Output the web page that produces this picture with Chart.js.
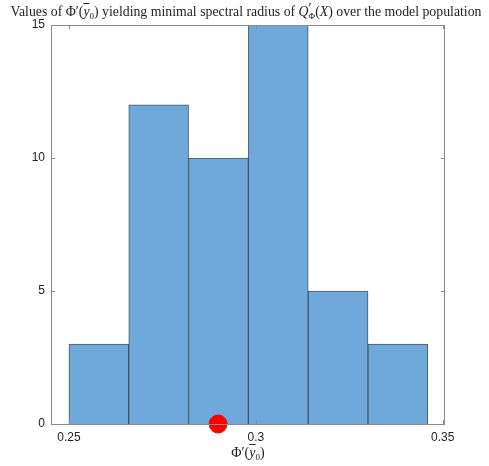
<!DOCTYPE html>
<html>
<head>
<meta charset="utf-8">
<script src="https://cdn.jsdelivr.net/npm/chart.js@4"></script>
<style>
  html, body { margin: 0; padding: 0; background: #fff; }
  #wrap { position: relative; width: 489px; height: 466px; }
  #title {
    position: absolute; left: 0; top: 4px; width: 492px; text-align: center;
    font-family: "Liberation Serif", "Times New Roman", serif; font-size: 13.8px; color: #222;
    white-space: nowrap;
  }
  #xlabel {
    position: absolute; left: 148px; top: 445px; width: 200px; text-align: center;
    font-family: "Liberation Serif", serif; font-size: 14px; color: #222;
  }
  .ov { text-decoration: overline; }
  i { font-style: italic; }
  sub { font-size: 9px; vertical-align: -3px; line-height: 0; }
  .pr { display: inline-block; width: 0; position: relative; top: -3px; }
</style>
</head>
<body>
<div id="wrap">
  <canvas id="chart" width="489" height="466"></canvas>
  <div id="title">Values of Φ′(<i class="ov">y</i><sub>0</sub>) yielding minimal spectral radius of <i>Q</i><span class="pr">′</span><sub>Φ</sub>(<i>X</i>) over the model population</div>
  <div id="xlabel">Φ′(<i class="ov">y</i><sub>0</sub>)</div>
</div>
<script>
// 히스토그램 데이터
const binEdges = [0.25, 0.266, 0.282, 0.298, 0.314, 0.330, 0.346];
const binCounts = [3, 12, 10, 15, 5, 3];
const markerX = [0.2899];
const markerY = [0];
const xTicks = [0.25, 0.3, 0.35];
const yTicks = [0, 5, 10, 15];

// 막대 데이터 (구간 중앙)
const barData = binCounts.map((c, i) => ({ x: (binEdges[i] + binEdges[i + 1]) / 2, y: c }));

// 상자 테두리와 안쪽 눈금
const boxPlugin = {
    id: 'box',
    afterDatasetsDraw(c) {
        const a = c.chartArea;
        const ctx = c.ctx;
        const xs = c.scales.x, ys = c.scales.y;
        ctx.save();
        ctx.strokeStyle = '#8a8a8a';
        ctx.lineWidth = 1;
        ctx.strokeRect(a.left + 0.5, a.top + 0.5, a.right - a.left - 1, a.bottom - a.top);
        ctx.beginPath();
        xTicks.forEach(v => {
            const px = Math.round(xs.getPixelForValue(v)) + 0.5;
            ctx.moveTo(px, a.bottom); ctx.lineTo(px, a.bottom - 4);
            ctx.moveTo(px, a.top); ctx.lineTo(px, a.top + 4);
        });
        yTicks.forEach(v => {
            const py = Math.round(ys.getPixelForValue(v)) + 0.5;
            ctx.moveTo(a.left, py); ctx.lineTo(a.left + 4, py);
            ctx.moveTo(a.right, py); ctx.lineTo(a.right - 4, py);
        });
        ctx.stroke();
        ctx.restore();
    }
};

function init() {
    const ctx = document.getElementById('chart').getContext('2d');
    new Chart(ctx, {
        data: {
            datasets: [
                {
                    type: 'scatter',
                    data: markerX.map((x, i) => ({ x: x, y: markerY[i] })),
                    backgroundColor: '#ff0000',
                    borderColor: '#ff0000',
                    pointRadius: 9,
                    clip: false,
                    order: 0
                },
                {
                    type: 'bar',
                    data: barData,
                    backgroundColor: 'rgb(111,168,218)',
                    borderColor: 'rgba(45,60,75,0.85)',
                    borderWidth: 1,
                    barPercentage: 1,
                    categoryPercentage: 1,
                    order: 1
                }
            ]
        },
        options: {
            responsive: false,
            animation: false,
            layout: { padding: { top: 25, right: 44, left: 0, bottom: 0 } },
            plugins: { legend: { display: false }, tooltip: { enabled: false } },
            scales: {
                x: {
                    type: 'linear',
                    offset: false,
                    min: 0.2452,
                    max: 0.3506,
                    afterBuildTicks: s => { s.ticks = xTicks.map(v => ({ value: v })); },
                    afterFit: s => { s.height = 42; },
                    grid: { display: false, drawTicks: false },
                    border: { display: false },
                    ticks: {
                        padding: 6,
                        color: '#222',
                        font: { family: 'Liberation Sans, Arial, sans-serif', size: 12 },
                        maxRotation: 0,
                        callback: v => String(v)
                    }
                },
                y: {
                    min: 0,
                    max: 15,
                    afterBuildTicks: s => { s.ticks = yTicks.map(v => ({ value: v })); },
                    afterFit: s => { s.width = 51; },
                    grid: { display: false, drawTicks: false },
                    border: { display: false },
                    ticks: {
                        padding: 6,
                        color: '#222',
                        font: { family: 'Liberation Sans, Arial, sans-serif', size: 12 }
                    }
                }
            }
        },
        plugins: [boxPlugin]
    });
}

document.addEventListener('DOMContentLoaded', init);
</script>
</body>
</html>
